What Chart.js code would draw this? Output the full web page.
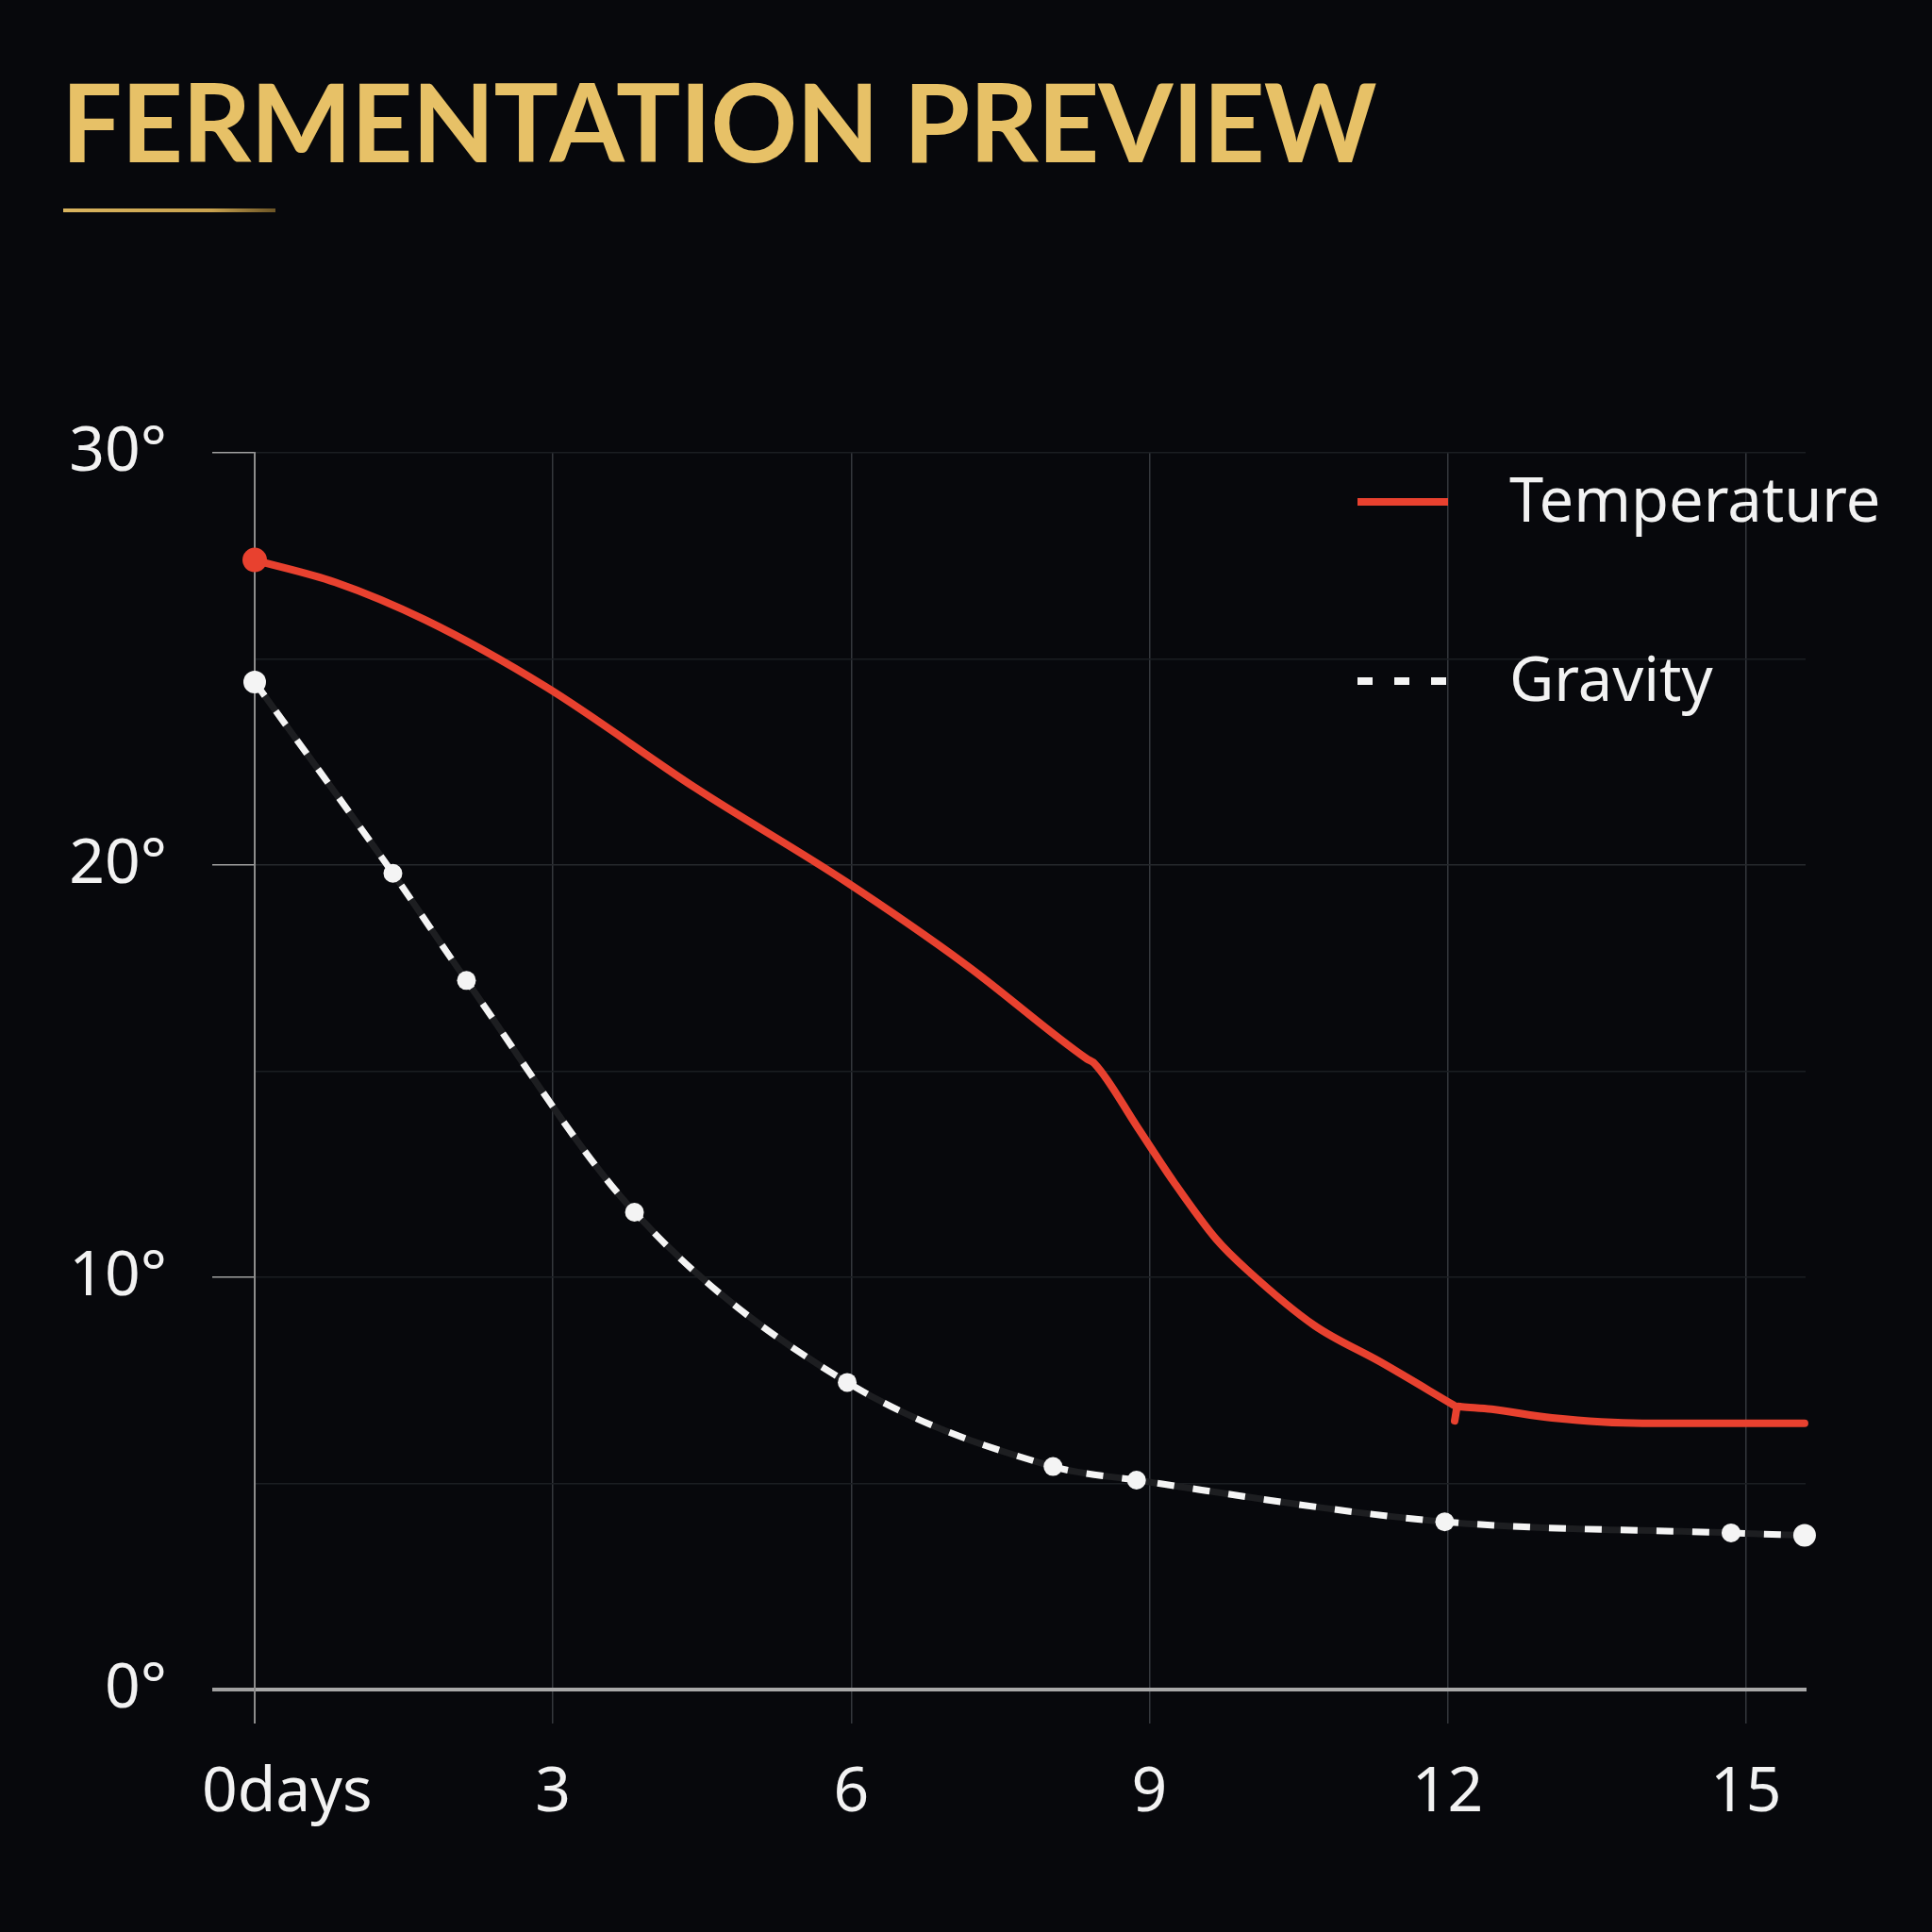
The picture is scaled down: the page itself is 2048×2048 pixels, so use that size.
<!DOCTYPE html>
<html>
<head>
<meta charset="utf-8">
<script src="https://cdn.jsdelivr.net/npm/chart.js@4.4.1/dist/chart.umd.min.js"></script>
<style>
  html, body { margin: 0; padding: 0; background: #07080c; }
  #wrap { position: relative; width: 2048px; height: 2048px; background: #07080c; }
  #title {
    position: absolute; left: 65px; top: 71px; margin: 0;
    font: 700 114px/114px Lato, "Noto Sans", sans-serif;
    color: #e7c167; letter-spacing: -1px; white-space: nowrap;
  }
  #rule {
    position: absolute; left: 67px; top: 221px; width: 225px; height: 4px;
    background: linear-gradient(90deg, #d9b45f, #c8a24f 70%, #6b5426);
  }
  #box { position: absolute; left: 0; top: 0; width: 2048px; height: 2048px; }
</style>
</head>
<body>
<div id="wrap">
  <div id="box"><canvas id="fermChart"></canvas></div>
  <h1 id="title">FERMENTATION PREVIEW</h1>
  <div id="rule"></div>
</div>
<script>
// days on the x axis, degrees on the y axis (null = small break at day 12)
const tempDays   = [0, 0.81, 1.72, 2.93, 4.44, 5.95, 7.16, 8.37, 8.45, 8.88, 9.24, 9.67, 10.0, 10.66, 11.32, 12.06, 12.065, 12.07, 12.1, 12.14, 12.44, 13.05, 13.96, 15.59];
const tempValues = [27.4, 26.86, 25.94, 24.32, 21.86, 19.59, 17.57, 15.3, 15.18, 13.64, 12.33, 10.93, 10.14, 8.83, 7.95, 6.9, null, 6.52, 6.87, 6.86, 6.8, 6.59, 6.46, 6.46];

const gravityDays   = [0, 1.39, 2.13, 3.82, 5.96, 8.03, 8.87, 11.97, 14.85, 15.59];
const gravityValues = [24.44, 19.8, 17.2, 11.58, 7.45, 5.41, 5.08, 4.07, 3.8, 3.74];

const xTicks = [0, 3, 6, 9, 12, 15];
const yTicks = [0, 10, 20, 30];

const RED = '#e8412f';
const WHITE = '#f4f4f4';

const toPoints = (xs, ys) => xs.map((x, i) => ({ x: x, y: ys[i] }));

// legend drawn inside the plot, top right
const sideLegend = {
  id: 'sideLegend',
  afterDraw(chart) {
    const { ctx, chartArea } = chart;
    const x = chartArea.right - 475;
    let y = chartArea.top + 52;
    ctx.save();
    chart.data.datasets.forEach(ds => {
      if (!ds.label) return;
      ctx.beginPath();
      ctx.strokeStyle = ds.borderColor;
      ctx.lineWidth = 8;
      ctx.setLineDash(ds.borderDash ? [16, 23] : []);
      ctx.moveTo(x, y);
      ctx.lineTo(x + 96, y);
      ctx.stroke();
      ctx.setLineDash([]);
      ctx.fillStyle = '#f2f2f2';
      ctx.font = '65px "Noto Sans", sans-serif';
      ctx.textAlign = 'left';
      ctx.textBaseline = 'middle';
      ctx.fillText(ds.label, x + 161, y + 2);
      y += 190;
    });
    ctx.restore();
  }
};

Chart.defaults.font.family = '"Noto Sans", sans-serif';
Chart.defaults.color = '#f2f2f2';

new Chart(document.getElementById('fermChart'), {
  type: 'line',
  data: {
    datasets: [{
      label: 'Temperature',
      data: toPoints(tempDays, tempValues),
      borderColor: RED,
      backgroundColor: RED,
      borderWidth: 8,
      borderCapStyle: 'round',
      cubicInterpolationMode: 'monotone',
      spanGaps: false,
      clip: false,
      pointRadius: c => c.dataIndex === 0 ? 13 : 0,
      pointBorderWidth: 0,
      order: 1
    }, {
      label: 'Gravity',
      data: toPoints(gravityDays, gravityValues),
      borderColor: WHITE,
      backgroundColor: WHITE,
      borderWidth: 7,
      borderDash: [18, 20],
      cubicInterpolationMode: 'monotone',
      clip: false,
      pointRadius: c => (c.dataIndex === 0 || c.dataIndex === gravityDays.length - 1) ? 12 : 10,
      pointBorderWidth: 0,
      order: 2
    }, {
      // dark track under the dashes
      label: '',
      data: toPoints(gravityDays, gravityValues),
      borderColor: '#1d1e21',
      borderWidth: 7,
      cubicInterpolationMode: 'monotone',
      clip: false,
      pointRadius: 0,
      order: 3
    }]
  },
  options: {
    responsive: true,
    maintainAspectRatio: false,
    devicePixelRatio: 1,
    animation: false,
    layout: { padding: { left: 75, right: 134, top: 480, bottom: 108 } },
    plugins: { legend: { display: false }, tooltip: { enabled: false } },
    scales: {
      x: {
        type: 'linear',
        min: 0,
        max: 15.6,
        afterBuildTicks: s => { s.ticks = xTicks.map(v => ({ value: v })); },
        afterFit: s => { s.height = 149; },
        border: { color: '#a8a8a8', width: 4 },
        grid: {
          color: c => c.tick && c.tick.value === 0 ? '#8c8c8c' : '#34373c',
          lineWidth: c => c.tick && c.tick.value === 0 ? 2 : 1.5,
          tickLength: 36
        },
        ticks: {
          padding: 35,
          maxRotation: 0,
          font: { size: 66 },
          color: '#f2f2f2',
          callback: v => v === 0 ? '    0days' : String(v)
        }
      },
      y: {
        min: 0,
        max: 30,
        afterBuildTicks: s => { s.ticks = [0, 5, 10, 15, 20, 25, 30].map(v => ({ value: v })); },
        afterFit: s => { s.width = 195; },
        border: { color: '#8c8c8c', width: 2 },
        grid: {
          color: c => c.tick && c.tick.value === 20 ? '#26292d' : '#1b1e22',
          lineWidth: c => c.tick && c.tick.value === 0 ? 4 : 1.5,
          tickColor: c => c.tick && yTicks.includes(c.tick.value) ? '#a0a0a0' : 'rgba(0,0,0,0)',
          tickLength: 45
        },
        ticks: {
          padding: 48,
          font: { size: 66 },
          color: '#f2f2f2',
          callback: v => yTicks.includes(v) ? v + '°' : ''
        }
      }
    }
  },
  plugins: [sideLegend]
});
</script>
</body>
</html>
